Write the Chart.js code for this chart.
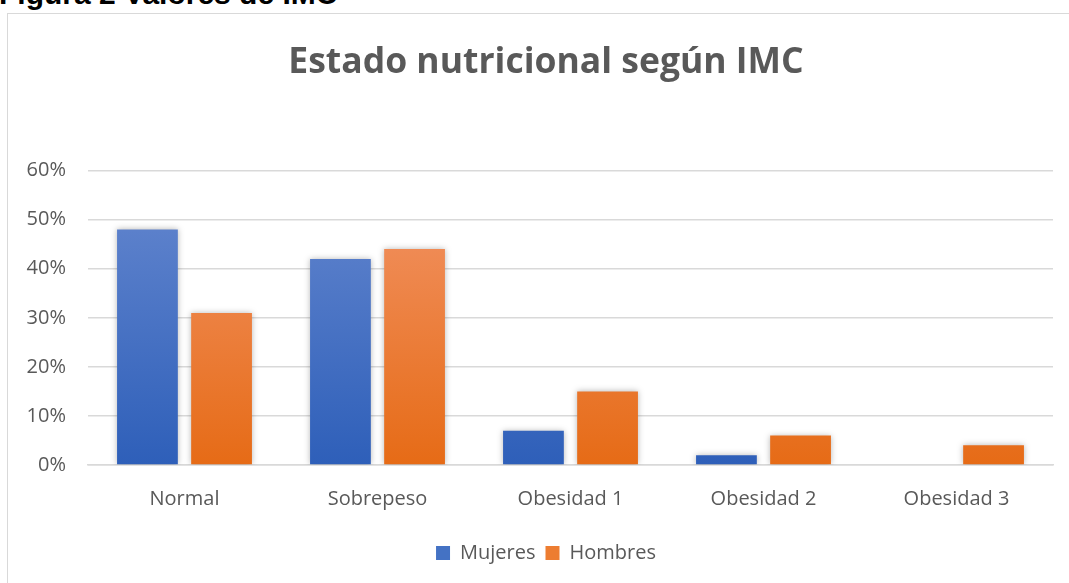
<!DOCTYPE html>
<html>
<head>
<meta charset="utf-8">
<script src="https://cdn.jsdelivr.net/npm/chart.js@4.4.1/dist/chart.umd.min.js"></script>
<style>
  html, body { margin: 0; padding: 0; background: #fff; overflow: hidden; }
  #caption { position: absolute; left: -1px; top: -21px; font-family: "Liberation Sans", Arial, sans-serif; font-weight: bold; font-size: 30px; color: #000; white-space: nowrap; line-height: 30px; }
  #frame { position: absolute; left: 7px; top: 13px; width: 1080px; height: 600px; border: 1.5px solid #d9d9d9; box-sizing: border-box; }
  #wrap { position: absolute; left: 0; top: 0; width: 1108px; height: 583px; }
</style>
</head>
<body>
<div id="caption">Figura 2 Valores de IMC</div>
<div id="frame"></div>
<div id="wrap"><canvas id="c"></canvas></div>
<script>
const categories = ["Normal", "Sobrepeso", "Obesidad 1", "Obesidad 2", "Obesidad 3"];
const mujeres = [48, 42, 7, 2, 0];
const hombres = [31, 44, 15, 6, 4];
const yTicks = [0, 10, 20, 30, 40, 50, 60];
const titleText = "Estado nutricional según IMC";

function grad(ctx, top, bottom) {
  const chart = ctx.chart;
  const area = chart.chartArea;
  if (!area) return bottom;
  const g = chart.ctx.createLinearGradient(0, area.top + 60, 0, area.bottom);
  g.addColorStop(0, top);
  g.addColorStop(1, bottom);
  return g;
}

const shadowPlugin = {
  id: 'shadow',
  beforeDatasetsDraw(chart) {
    const c = chart.ctx;
    c.save();
    c.shadowColor = 'rgba(0,0,0,0.28)';
    c.shadowBlur = 6;
    c.shadowOffsetX = 0;
    c.shadowOffsetY = 0;
  },
  afterDatasetsDraw(chart) { chart.ctx.restore(); }
};

new Chart(document.getElementById('c'), {
  type: 'bar',
  data: {
    labels: categories,
    datasets: [
      { label: 'Mujeres', data: mujeres,
        backgroundColor: ctx => grad(ctx, '#5b80cb', '#2e5fb9'),
        categoryPercentage: 0.768, barPercentage: 0.82 },
      { label: 'Hombres', data: hombres,
        backgroundColor: ctx => grad(ctx, '#f08d59', '#e66b16'),
        categoryPercentage: 0.768, barPercentage: 0.82 }
    ]
  },
  options: {
    responsive: true,
    maintainAspectRatio: false,
    animation: false,
    layout: { padding: { top: 14, right: 16, bottom: 10, left: 0 } },
    plugins: {
      title: {
        display: true, text: titleText, color: '#595959',
        font: { family: 'Open Sans', size: 35.5, weight: 'bold' },
        padding: { top: 28, bottom: 86 }
      },
      legend: {
        position: 'bottom',
        labels: {
          color: '#595959', font: { family: 'Open Sans', size: 20 },
          boxWidth: 14, boxHeight: 14, padding: 10,
          generateLabels(chart) {
            const cols = ['#4472c4', '#ed7d31'];
            return chart.data.datasets.map((d, i) => ({
              text: d.label, fillStyle: cols[i], strokeStyle: cols[i], lineWidth: 0,
              datasetIndex: i, fontColor: '#595959'
            }));
          }
        }
      },
      tooltip: { enabled: false }
    },
    scales: {
      x: {
        grid: { display: false, drawTicks: false },
        border: { display: true, color: '#d9d9d9', width: 1.5 },
        ticks: { color: '#595959', font: { family: 'Open Sans', size: 20 }, padding: 22 }
      },
      y: {
        min: 0, max: 60,
        afterFit(scale) { scale.width = 88; },
        afterBuildTicks(scale) { scale.ticks = yTicks.map(v => ({ value: v })); },
        grid: { color: '#d9d9d9', lineWidth: 1.5, drawTicks: false },
        border: { display: false },
        ticks: { color: '#595959', font: { family: 'Open Sans', size: 20 }, padding: 22,
          callback: v => v + '%' }
      },
      spacer: {
        type: 'linear', position: 'right', min: 0, max: 1,
        afterFit(scale) { scale.width = 39; },
        grid: { display: false, drawTicks: false },
        border: { display: false },
        ticks: { display: false }
      }
    }
  },
  plugins: [shadowPlugin]
});
</script>
</body>
</html>
